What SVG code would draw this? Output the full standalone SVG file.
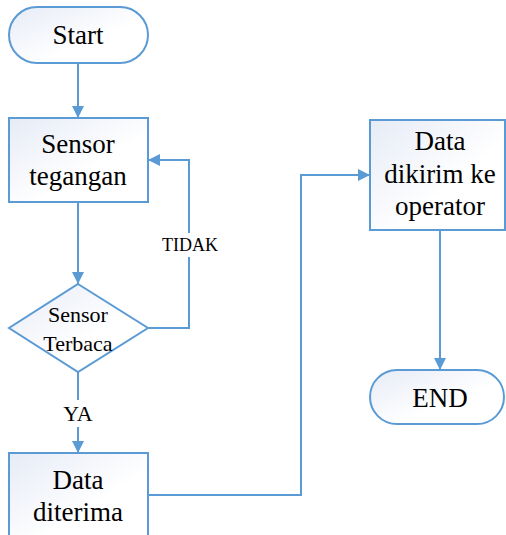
<svg xmlns="http://www.w3.org/2000/svg" width="506" height="535" viewBox="0 0 506 535">
<defs>
<linearGradient id="g" x1="0" y1="0" x2="1" y2="1">
<stop offset="0" stop-color="#e6ebf6"/>
<stop offset="0.6" stop-color="#ffffff"/>
</linearGradient>
<marker id="ah" viewBox="0 0 12 12" refX="12" refY="6" markerWidth="12" markerHeight="12" markerUnits="userSpaceOnUse" orient="auto">
<path d="M0,0 L12,6 L0,12 Z" fill="#5b9bd5"/>
</marker>
</defs>
<style>
.n{fill:url(#g);stroke:#5b9bd5;stroke-width:2}
.e{fill:none;stroke:#5b9bd5;stroke-width:2}
</style>
<g id="start">
<rect class="n" x="9" y="7" width="139" height="56" rx="28" ry="28"/>
<text x="78" y="44" font-family="Times New Roman" font-size="27" text-anchor="middle">Start</text>
</g>
<g id="sensor-tegangan">
<rect class="n" x="9" y="118" width="139" height="84"/>
<text x="78" y="153" font-family="Times New Roman" font-size="27" text-anchor="middle">Sensor</text>
<text x="78" y="185" font-family="Times New Roman" font-size="27" text-anchor="middle">tegangan</text>
</g>
<g id="sensor-terbaca">
<path class="n" d="M78,284 L148,328 L78,372 L9,328 Z"/>
<text x="78" y="322" font-family="Times New Roman" font-size="22" text-anchor="middle">Sensor</text>
<text x="78" y="351" font-family="Times New Roman" font-size="22" text-anchor="middle">Terbaca</text>
</g>
<g id="data-diterima">
<rect class="n" x="9" y="453" width="139" height="90"/>
<text x="78" y="489" font-family="Times New Roman" font-size="27" text-anchor="middle">Data</text>
<text x="78" y="521" font-family="Times New Roman" font-size="27" text-anchor="middle">diterima</text>
</g>
<g id="data-dikirim">
<rect class="n" x="370" y="120" width="135" height="110"/>
<text x="440" y="150" font-family="Times New Roman" font-size="27" text-anchor="middle">Data</text>
<text x="440" y="183" font-family="Times New Roman" font-size="27" text-anchor="middle">dikirim ke</text>
<text x="440" y="215" font-family="Times New Roman" font-size="27" text-anchor="middle">operator</text>
</g>
<g id="end">
<rect class="n" x="370" y="370" width="134" height="54" rx="27" ry="27"/>
<text x="440" y="407" font-family="Times New Roman" font-size="27" text-anchor="middle">END</text>
</g>
<g id="connectors">
<path class="e" d="M78,63 L78,118" marker-end="url(#ah)"/>
<path class="e" d="M78,202 L78,284" marker-end="url(#ah)"/>
<path class="e" d="M148,328 L189,328 L189,160 L148,160" marker-end="url(#ah)"/>
<rect x="160" y="233" width="60" height="24" fill="#fff"/>
<text x="190" y="251" font-family="Times New Roman" font-size="18" text-anchor="middle">TIDAK</text>
<path class="e" d="M78,372 L78,453" marker-end="url(#ah)"/>
<rect x="58" y="400" width="40" height="27" fill="#fff"/>
<text x="78" y="421" font-family="Times New Roman" font-size="22" text-anchor="middle">YA</text>
<path class="e" d="M148,495 L301,495 L301,175 L370,175" marker-end="url(#ah)"/>
<path class="e" d="M440,230 L440,370" marker-end="url(#ah)"/>
</g>
</svg>
